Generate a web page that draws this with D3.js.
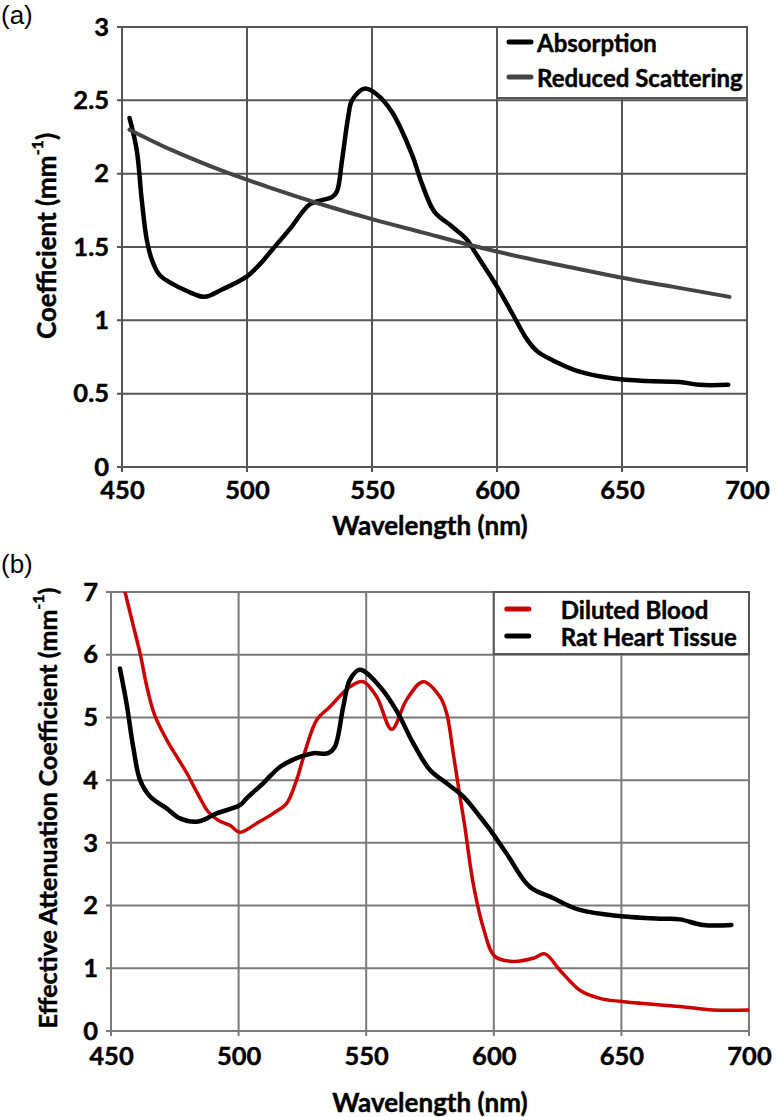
<!DOCTYPE html>
<html>
<head>
<meta charset="utf-8">
<script src="https://cdn.jsdelivr.net/npm/d3@7"></script>
<style>
  body { margin: 0; background: #fff; }
  text { font-family: Lato, "Open Sans", sans-serif; font-weight: bold; fill: #000; stroke: #000; stroke-width: 0.45px; }
  .panel-label { font-family: "Liberation Sans", Arial, sans-serif; font-weight: normal; stroke: none; }
</style>
</head>
<body>
<svg id="chart"></svg>
<script>
// tick values
const xTicks = [450, 500, 550, 600, 650, 700]
const yTicksA = [0, 0.5, 1, 1.5, 2, 2.5, 3]
const yTicksB = [0, 1, 2, 3, 4, 5, 6, 7]

// (a) absorption
const absWl  = [453, 455.9, 457.9, 459.9, 462, 465, 470, 476, 483, 490, 500, 505, 510, 517, 525, 530, 534, 536, 538, 540.5, 542, 547, 552, 558, 566, 570, 575, 582, 588, 591, 600, 606, 612, 616, 622, 633, 646, 660, 673, 681, 692.5]
const absVal = [2.38, 2.16, 1.82, 1.55, 1.41, 1.31, 1.25, 1.2, 1.16, 1.21, 1.30, 1.38, 1.48, 1.62, 1.79, 1.82, 1.84, 1.88, 2.09, 2.39, 2.50, 2.58, 2.54, 2.42, 2.13, 1.93, 1.74, 1.64, 1.55, 1.47, 1.23, 1.05, 0.87, 0.79, 0.73, 0.65, 0.605, 0.586, 0.58, 0.56, 0.56]

// (a) reduced scattering
const scatWl  = [453, 470, 490, 510, 530, 550, 570, 590, 610, 630, 650, 670, 693]
const scatVal = [2.30, 2.16, 2.02, 1.90, 1.79, 1.69, 1.60, 1.51, 1.43, 1.36, 1.29, 1.23, 1.16]

// (b) diluted blood
const bloodWl  = [455.5, 458.5, 461.4, 464, 467, 472, 476, 480, 484, 488, 492, 496.6, 500.5, 507, 513.6, 518.8, 522.7, 526.6, 530.6, 535.8, 543.6, 548.8, 554.1, 560, 565.8, 572.3, 578.9, 581.5, 584.1, 586.5, 588.5, 591.9, 595.8, 600.4, 607.6, 615.4, 620, 625.9, 633.7, 641.5, 650, 672.9, 685.9, 700]
const bloodVal = [7.0, 6.5, 6.02, 5.5, 5.05, 4.63, 4.36, 4.09, 3.78, 3.50, 3.36, 3.28, 3.17, 3.31, 3.47, 3.63, 4.0, 4.53, 4.96, 5.17, 5.49, 5.57, 5.33, 4.81, 5.28, 5.57, 5.33, 5.07, 4.43, 3.8, 3.3, 2.36, 1.66, 1.19, 1.11, 1.16, 1.23, 0.97, 0.65, 0.52, 0.47, 0.39, 0.335, 0.335]

// (b) rat heart tissue
const heartWl  = [453.5, 456.1, 458.7, 461.4, 465.3, 471.8, 477, 484.2, 491.4, 500.5, 503.1, 509.6, 516.2, 524, 529.2, 535.1, 537.7, 541, 543.6, 547.5, 555.4, 562, 568.4, 575, 581.5, 588, 594.5, 598.5, 605, 614.1, 623.2, 633.7, 650, 666.3, 672.9, 682, 693.1]
const heartVal = [5.78, 5.22, 4.53, 4.0, 3.74, 3.55, 3.39, 3.34, 3.47, 3.60, 3.71, 3.95, 4.21, 4.37, 4.43, 4.43, 4.53, 5.17, 5.60, 5.76, 5.49, 5.10, 4.59, 4.16, 3.95, 3.74, 3.42, 3.21, 2.83, 2.30, 2.12, 1.93, 1.83, 1.79, 1.78, 1.69, 1.69]

const W = 776, H = 1117
const svg = d3.select('#chart').attr('width', W).attr('height', H)

const zip = (xs, ys) => xs.map((x, i) => ({x: x, y: ys[i]}))

const drawPanel = (cfg) => {
    const x = d3.scaleLinear().domain([450, 700]).range([cfg.left, cfg.right])
    const y = d3.scaleLinear().domain([0, cfg.yMax]).range([cfg.bottom, cfg.top])
    const g = svg.append('g')

    // grid + outward ticks
    g.selectAll('.vgrid').data(xTicks).enter().append('line')
        .attr('x1', d => x(d)).attr('x2', d => x(d))
        .attr('y1', cfg.top).attr('y2', cfg.bottom + 5)
        .attr('stroke', cfg.grid).attr('stroke-width', 2)
    g.selectAll('.hgrid').data(cfg.yTicks).enter().append('line')
        .attr('x1', cfg.left - 5).attr('x2', cfg.right)
        .attr('y1', d => y(d)).attr('y2', d => y(d))
        .attr('stroke', cfg.grid).attr('stroke-width', 2)

    // axis labels
    const xAxis = d3.axisBottom(x).tickValues(xTicks).tickSize(5).tickPadding(cfg.xPad).tickFormat(d3.format('d'))
    const gx = g.append('g').attr('transform', `translate(0,${cfg.bottom})`).call(xAxis)
    const yAxis = d3.axisLeft(y).tickValues(cfg.yTicks).tickSize(5).tickPadding(8).tickFormat(d => String(d))
    const gy = g.append('g').attr('transform', `translate(${cfg.left},0)`).call(yAxis)
    ;[gx, gy].forEach(a => {
        a.select('.domain').remove()
        a.selectAll('.tick line').remove()
        a.selectAll('text').style('font-size', '25.5px')
    })

    // titles
    g.append('text').text('Wavelength (nm)')
        .attr('x', 430).attr('y', cfg.xTitleY)
        .attr('text-anchor', 'middle').attr('dominant-baseline', 'central')
        .style('font-size', '26px')
    const yt = g.append('text')
        .attr('transform', `translate(${cfg.yTitleX},${cfg.yTitleY}) rotate(-90)`)
        .attr('text-anchor', 'middle').attr('dominant-baseline', 'central')
        .style('font-size', cfg.yTitleSize)
    yt.append('tspan').text(cfg.yTitle + ' (mm')
    yt.append('tspan').text('-1').style('font-size', '16px').attr('baseline-shift', 'super')
    yt.append('tspan').text(')')

    svg.append('text').attr('class', 'panel-label').text(cfg.label)
        .attr('x', 1).attr('y', cfg.labelY).style('font-size', '26px')

    // series
    const clipId = 'clip' + cfg.label.replace(/\W/g, '')
    svg.append('clipPath').attr('id', clipId).append('rect')
        .attr('x', cfg.left).attr('y', cfg.top)
        .attr('width', cfg.right - cfg.left).attr('height', cfg.bottom - cfg.top)
    const line = d3.line().x(d => x(d.x)).y(d => y(d.y)).curve(d3.curveCatmullRom.alpha(0.5))
    g.append('g').attr('clip-path', `url(#${clipId})`)
        .selectAll('path').data(cfg.series).enter().append('path')
        .attr('d', s => line(s.points))
        .attr('fill', 'none')
        .attr('stroke', s => s.color)
        .attr('stroke-width', s => s.width)
        .attr('stroke-linecap', 'round')
        .attr('stroke-linejoin', 'round')

    // legend
    const lg = cfg.legend
    const lgX = x(lg.from), lgY = cfg.top
    const lgG = g.append('g')
    lgG.append('rect')
        .attr('x', lgX).attr('y', lgY)
        .attr('width', cfg.right - lgX).attr('height', lg.height)
        .attr('fill', '#fff').attr('stroke', cfg.legendStroke).attr('stroke-width', 2)
    cfg.series.forEach((s, i) => {
        const cy = lgY + lg.firstY + i * lg.step
        lgG.append('line')
            .attr('x1', lgX + lg.swX1).attr('x2', lgX + lg.swX2)
            .attr('y1', cy).attr('y2', cy)
            .attr('stroke', s.color).attr('stroke-width', 5).attr('stroke-linecap', 'round')
        lgG.append('text').text(s.name)
            .attr('x', lgX + lg.textX).attr('y', cy)
            .attr('dominant-baseline', 'central')
            .style('font-size', '24px')
    })
}

drawPanel({
    label: '(a)', labelY: 24,
    left: 122, right: 747, top: 27, bottom: 467,
    yMax: 3, yTicks: yTicksA,
    grid: '#555', legendStroke: '#555',
    xPad: 9, xTitleY: 525,
    yTitle: 'Coefficient', yTitleX: 46, yTitleY: 236, yTitleSize: '26px',
    series: [
        {name: 'Absorption', color: '#000', width: 4.5, points: zip(absWl, absVal)},
        {name: 'Reduced Scattering', color: '#444', width: 4, points: zip(scatWl, scatVal)}
    ],
    legend: {from: 600, height: 71, firstY: 15, step: 35, swX1: 12, swX2: 34, textX: 40}
})

drawPanel({
    label: '(b)', labelY: 573,
    left: 111, right: 749, top: 592, bottom: 1031,
    yMax: 7, yTicks: yTicksB,
    grid: '#7a7a7a', legendStroke: '#555',
    xPad: 11, xTitleY: 1102,
    yTitle: 'Effective Attenuation Coefficient', yTitleX: 47, yTitleY: 808, yTitleSize: '25px',
    series: [
        {name: 'Diluted Blood', color: '#cc0000', width: 3.5, points: zip(bloodWl, bloodVal)},
        {name: 'Rat Heart Tissue', color: '#000', width: 4.5, points: zip(heartWl, heartVal)}
    ],
    legend: {from: 600, height: 62, firstY: 17, step: 27, swX1: 13, swX2: 35, textX: 67}
})
</script>
</body>
</html>
